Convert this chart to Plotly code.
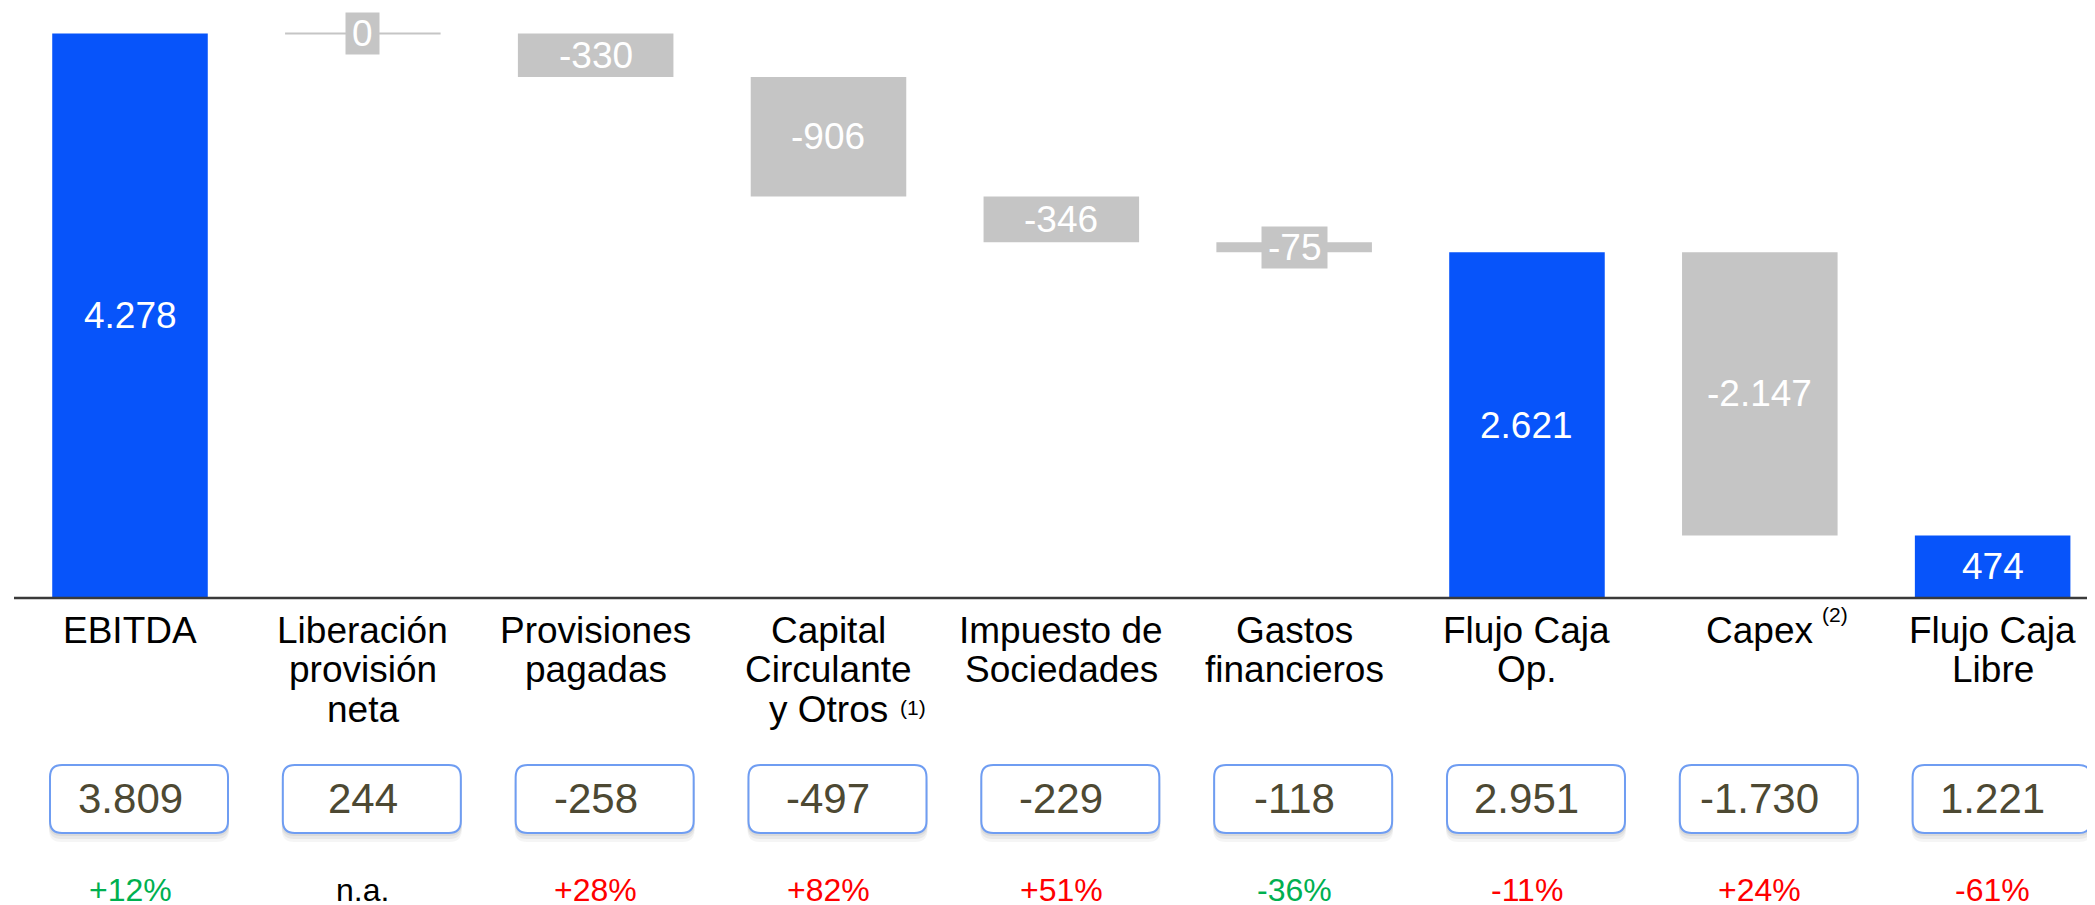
import plotly.graph_objects as go

# data
categories = ["EBITDA", "Liberación provisión neta", "Provisiones pagadas",
              "Capital Circulante y Otros", "Impuesto de Sociedades", "Gastos financieros",
              "Flujo Caja Op.", "Capex", "Flujo Caja Libre"]
label_lines = [["EBITDA"], ["Liberación", "provisión", "neta"], ["Provisiones", "pagadas"],
               ["Capital", "Circulante", "y Otros"], ["Impuesto de", "Sociedades"],
               ["Gastos", "financieros"], ["Flujo Caja", "Op."], ["Capex"], ["Flujo Caja", "Libre"]]
footnotes = ["", "", "", "(1)", "", "", "", "(2)", ""]
measures = ["absolute", "relative", "relative", "relative", "relative", "relative",
            "total", "relative", "total"]
values = [4278, 0, -330, -906, -346, -75, 0, -2147, 0]
prev_values = ["3.809", "244", "-258", "-497", "-229", "-118", "2.951", "-1.730", "1.221"]
changes = ["+12%", "n.a.", "+28%", "+82%", "+51%", "-36%", "-11%", "+24%", "-61%"]

BLUE = "#0754FA"
GRAY = "#C5C5C5"
FONT = "Liberation Sans, Arial, sans-serif"
PAGE_OFF = 8  # default body margin of the html page
W, H = 2095 - PAGE_OFF, 905
PLOT_H = 598 - PAGE_OFF
PX_PER_UNIT = 0.13195
STEP = 232.83
X0 = -(130 - PAGE_OFF) / STEP
XR = [X0, X0 + W / STEP]
BAR_W = 0.668


def fmt(v):
    return f"{v:,}".replace(",", ".")


def text_w(s, size=37):
    em = {"-": 0.333, ".": 0.278}
    return sum(em.get(c, 0.556) for c in s) * size


# running totals for bar extents
bars = []
run = 0
for m, v in zip(measures, values):
    if m == "absolute":
        lo, hi, lab = 0, v, v
        run = v
    elif m == "total":
        lo, hi, lab = 0, run, run
    else:
        lo, hi, lab = run, run + v, v
        run += v
    bars.append((lo, hi, lab))

fig = go.Figure(go.Waterfall(
    x=categories, y=values, measure=measures,
    decreasing=dict(marker=dict(color=GRAY)),
    increasing=dict(marker=dict(color=GRAY)),
    totals=dict(marker=dict(color=BLUE)),
    connector=dict(visible=False), textinfo="none", hoverinfo="skip",
))

shapes = []
annotations = []

# zero-height bar drawn as a thin line
for i, (lo, hi, lab) in enumerate(bars):
    if lo == hi:
        shapes.append(dict(type="line", xref="x", yref="y", x0=i - BAR_W / 2, x1=i + BAR_W / 2,
                           y0=hi, y1=hi, line=dict(color=GRAY, width=2), layer="above"))

# baseline
shapes.append(dict(type="line", xref="paper", yref="paper", x0=(14 - PAGE_OFF) / W, x1=1,
                   y0=0, y1=0, line=dict(color="#3a3a3a", width=2.5)))

# bar value labels
for i, (lo, hi, lab) in enumerate(bars):
    txt = fmt(lab)
    a = dict(x=i, y=(lo + hi) / 2, xref="x", yref="y", text=txt, showarrow=False,
             font=dict(family=FONT, size=37, color="white"), xanchor="center", yanchor="middle")
    if measures[i] == "relative":
        a.update(bgcolor=GRAY, width=text_w(txt) + 12, height=41, borderpad=0)
    annotations.append(a)


def px_y(py):
    # py measured on the page; returns offset from plot bottom
    return PLOT_H - (py - PAGE_OFF)


# category labels
foot_shift = {3: (70, -2), 7: (60, -16)}
for i, lines in enumerate(label_lines):
    for k, line in enumerate(lines):
        annotations.append(dict(x=i, y=0, xref="x", yref="paper", yshift=px_y(630 + 39.7 * k),
                                text=line, showarrow=False, xanchor="center", yanchor="middle",
                                font=dict(family=FONT, size=37, color="black")))
    if footnotes[i]:
        k = len(lines) - 1
        dx, dy = foot_shift[i]
        annotations.append(dict(x=i, y=0, xref="x", yref="paper",
                                yshift=px_y(630 + 39.7 * k + dy), xshift=dx,
                                text=footnotes[i], showarrow=False, xanchor="left", yanchor="middle",
                                font=dict(family=FONT, size=21, color="black")))


def rrect(x0, x1, y0, y1, r):
    return (f"M{x0 + r},{y0} L{x1 - r},{y0} Q{x1},{y0} {x1},{y0 + r} L{x1},{y1 - r} "
            f"Q{x1},{y1} {x1 - r},{y1} L{x0 + r},{y1} Q{x0},{y1} {x0},{y1 - r} "
            f"L{x0},{y0 + r} Q{x0},{y0} {x0 + r},{y0} Z")


# boxed previous-year values and % change
for i in range(len(categories)):
    xp = (i - XR[0]) / (XR[1] - XR[0])
    bx0, bx1 = -80, 98
    by0, by1 = px_y(833), px_y(765)
    for off, op in [(9, 0.04), (6, 0.05), (3, 0.06)]:
        shapes.append(dict(type="path", xref="paper", yref="paper", xsizemode="pixel",
                           ysizemode="pixel", xanchor=xp, yanchor=0,
                           path=rrect(bx0 - 1, bx1 + 1, by0 - off, by1 - off, 12),
                           fillcolor=f"rgba(0,0,0,{op})", line=dict(width=0)))
    shapes.append(dict(type="path", xref="paper", yref="paper", xsizemode="pixel",
                       ysizemode="pixel", xanchor=xp, yanchor=0,
                       path=rrect(bx0, bx1, by0, by1, 12),
                       fillcolor="white", line=dict(color="#6F9DF2", width=2)))
    annotations.append(dict(x=i, y=0, xref="x", yref="paper", yshift=px_y(798), text=prev_values[i],
                            showarrow=False, xanchor="center", yanchor="middle",
                            font=dict(family=FONT, size=42, color="#4D4933")))
    c = changes[i]
    col = "black" if c == "n.a." else ("#00B050" if i in (0, 5) else "#FF0000")
    annotations.append(dict(x=i, y=0, xref="x", yref="paper", yshift=px_y(890), text=c,
                            showarrow=False, xanchor="center", yanchor="middle",
                            font=dict(family=FONT, size=32, color=col)))

fig.update_layout(
    width=W, height=H,
    margin=dict(l=0, r=0, t=0, b=H - PLOT_H),
    plot_bgcolor="white", paper_bgcolor="white",
    showlegend=False, waterfallgap=1 - BAR_W,
    xaxis=dict(range=XR, showticklabels=False, showgrid=False, zeroline=False, showline=False),
    yaxis=dict(range=[0, PLOT_H / PX_PER_UNIT], showticklabels=False, showgrid=False,
               zeroline=False, showline=False),
    shapes=shapes, annotations=annotations,
)

fig.write_html("out.html")
